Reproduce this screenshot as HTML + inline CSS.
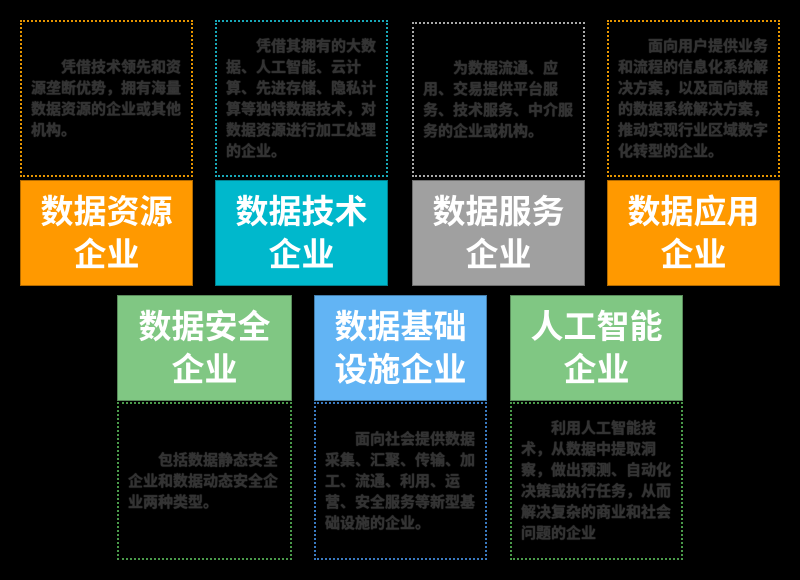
<!DOCTYPE html>
<html><head><meta charset="utf-8"><style>
body{margin:0;width:800px;height:580px;background:#000;position:relative;overflow:hidden;font-family:"Liberation Sans","Noto Sans CJK SC",sans-serif}
.d{position:absolute;border:2px dotted;box-sizing:border-box;display:flex;align-items:center;padding:0 9px}
.d p{margin:0;color:#333;font-size:15px;line-height:21px;text-indent:2em;font-weight:bold;text-shadow:0 0 1px #555}
.l{position:absolute;box-sizing:border-box;color:#fff;font-weight:bold;font-size:33px;line-height:43px;text-align:center;display:flex;align-items:center;justify-content:center;border:1px solid rgba(0,0,0,.3)}
</style></head><body>
<div class="d" style="left:20px;top:20px;width:173px;height:157px;border-color:#e69500"><p>凭借技术领先和资源垄断优势，拥有海量数据资源的企业或其他机构。</p></div>
<div class="l" style="left:20px;top:180px;width:173px;height:106px;background:#FF9900">数据资源<br>企业</div>
<div class="d" style="left:215px;top:20px;width:173px;height:157px;border-color:#18a8b8"><p>凭借其拥有的大数据、人工智能、云计算、先进存储、隐私计算等独特数据技术，对数据资源进行加工处理的企业。</p></div>
<div class="l" style="left:215px;top:180px;width:173px;height:106px;background:#00B8CC">数据技术<br>企业</div>
<div class="d" style="left:412px;top:22px;width:173px;height:155px;border-color:#aaa"><p>为数据流通、应用、交易提供平台服务、技术服务、中介服务的企业或机构。</p></div>
<div class="l" style="left:412px;top:180px;width:173px;height:106px;background:#A0A0A0">数据服务<br>企业</div>
<div class="d" style="left:607px;top:20px;width:173px;height:157px;border-color:#e69500"><p>面向用户提供业务和流程的信息化系统解决方案，以及面向数据的数据系统解决方案，推动实现行业区域数字化转型的企业。</p></div>
<div class="l" style="left:607px;top:180px;width:173px;height:106px;background:#FF9900">数据应用<br>企业</div>

<div class="l" style="left:117px;top:295px;width:175px;height:106px;background:#80C783">数据安全<br>企业</div>
<div class="d" style="left:117px;top:402px;width:175px;height:158px;border-color:#4a9a4a"><p>包括数据静态安全企业和数据动态安全企业两种类型。</p></div>
<div class="l" style="left:314px;top:295px;width:173px;height:106px;background:#62B4F4">数据基础<br>设施企业</div>
<div class="d" style="left:314px;top:402px;width:173px;height:158px;border-color:#3a7ac0"><p>面向社会提供数据采集、汇聚、传输、加工、流通、利用、运营、安全服务等新型基础设施的企业。</p></div>
<div class="l" style="left:510px;top:295px;width:173px;height:106px;background:#80C783">人工智能<br>企业</div>
<div class="d" style="left:510px;top:402px;width:173px;height:158px;border-color:#4a9a4a"><p>利用人工智能技术，从数据中提取洞察，做出预测、自动化决策或执行任务，从而解决复杂的商业和社会问题的企业</p></div>
</body></html>
